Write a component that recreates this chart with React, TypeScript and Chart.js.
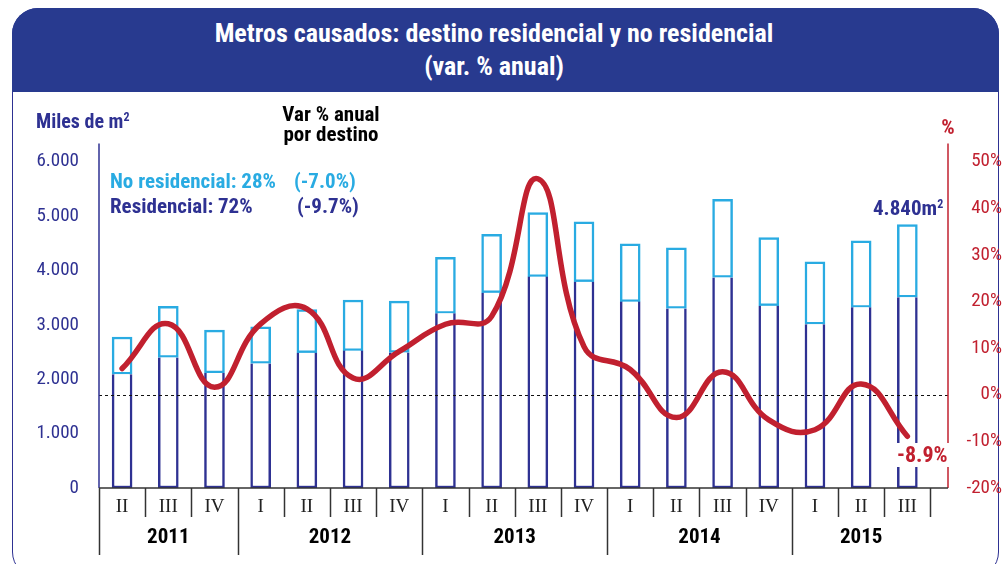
import React, { useEffect, useRef } from "react";
import { Chart, registerables } from "chart.js";

Chart.register(...registerables);

// ---- data ----
const quarterLabels = ["II", "III", "IV", "I", "II", "III", "IV", "I", "II", "III", "IV", "I", "II", "III", "IV", "I", "II", "III"];
const yearLabels = ["2011", "2012", "2013", "2014", "2015"];
const quartersPerYear = [3, 4, 4, 4, 3];
const residencial = [2090, 2400, 2115, 2290, 2485, 2525, 2490, 3210, 3590, 3885, 3790, 3425, 3300, 3870, 3350, 3010, 3320, 3505];
const noResidencial = [685, 940, 785, 670, 795, 930, 945, 1030, 1070, 1175, 1100, 1060, 1115, 1435, 1250, 1145, 1220, 1335];
const variacionAnual = [5.6, 15.2, 1.6, 15.2, 18.4, 3.6, 9.3, 15.1, 16.8, 46.3, 10.3, 5.4, -4.9, 4.9, -5.4, -7.5, 2.3, -8.9];
const leftTickLabels = ["0", "1.000", "2.000", "3.000", "4.000", "5.000", "6.000"];
const rightTickLabels = ["-20%", "-10%", "0%", "10%", "20%", "30%", "40%", "50%"];

const NAVY = "#2e3192";
const LIGHT = "#29abe2";
const RED = "#c1202f";
const TITLE_BG = "#283a8f";
const NARROW = "'Roboto Condensed', 'DejaVu Sans Condensed', sans-serif";
const SERIF = "'Liberation Serif', 'DejaVu Serif', serif";

const axesPlugin = {
  id: "customAxes",
  beforeDatasetDraw(chart: any, args: any) {
    if (args.index !== 2) return;
    const { ctx, chartArea } = chart;
    const y1 = chart.scales.y1;
    const y = Math.round(y1.getPixelForValue(0)) + 0.5;
    ctx.save();
    ctx.strokeStyle = "#111";
    ctx.lineWidth = 1;
    ctx.setLineDash([3, 3]);
    ctx.beginPath();
    ctx.moveTo(chartArea.left, y);
    ctx.lineTo(chartArea.right, y);
    ctx.stroke();
    ctx.restore();
  },
  afterDraw(chart: any) {
    const { ctx, chartArea } = chart;
    const xs = chart.scales.x;
    const top = chartArea.top - 18;
    const bottom = chartArea.bottom;
    ctx.save();
    // left axis
    ctx.strokeStyle = NAVY;
    ctx.lineWidth = 1.5;
    ctx.beginPath();
    ctx.moveTo(chartArea.left, top);
    ctx.lineTo(chartArea.left, bottom);
    ctx.stroke();
    // right axis
    ctx.strokeStyle = RED;
    ctx.beginPath();
    ctx.moveTo(chartArea.right, top);
    ctx.lineTo(chartArea.right, bottom);
    ctx.stroke();
    // bottom axis
    ctx.strokeStyle = "#333";
    ctx.lineWidth = 1.5;
    ctx.beginPath();
    ctx.moveTo(chartArea.left, bottom);
    ctx.lineTo(chartArea.right, bottom);
    ctx.stroke();
    // separators
    const yearStarts: number[] = [];
    let acc = 0;
    quartersPerYear.forEach((n) => {
      yearStarts.push(acc);
      acc += n;
    });
    for (let b = 0; b <= quarterLabels.length; b++) {
      const x = Math.round(xs.getPixelForValue(b - 0.5)) + 0.5;
      const long = yearStarts.includes(b);
      ctx.beginPath();
      ctx.moveTo(x, bottom);
      ctx.lineTo(x, bottom + (long ? 67 : 29));
      ctx.stroke();
    }
    // quarter labels
    ctx.fillStyle = "#222";
    ctx.font = `19px ${SERIF}`;
    ctx.textAlign = "center";
    ctx.textBaseline = "middle";
    quarterLabels.forEach((q, i) => {
      ctx.fillText(q, xs.getPixelForValue(i), bottom + 19);
    });
    // year labels
    ctx.fillStyle = "#000";
    ctx.font = `bold 21px ${NARROW}`;
    yearLabels.forEach((yl, k) => {
      const s = yearStarts[k];
      const e = s + quartersPerYear[k] - 1;
      const cx = (xs.getPixelForValue(s - 0.5) + xs.getPixelForValue(e + 0.5)) / 2;
      ctx.fillText(yl, cx, bottom + 50);
    });
    ctx.restore();
  },
};

export default function App() {
  const ref = useRef<HTMLCanvasElement>(null);

  useEffect(() => {
    if (!ref.current) return;
    const idx = quarterLabels.map((_, i) => i);
    const chart = new Chart(ref.current, {
      type: "bar",
      data: {
        datasets: [
          {
            type: "bar",
            label: "Residencial",
            data: idx.map((i) => ({ x: i, y: residencial[i] })),
            backgroundColor: "#ffffff",
            borderColor: NAVY,
            borderWidth: { top: 0, left: 2.5, right: 2.5, bottom: 2.5 } as any,
            borderSkipped: false,
            barThickness: 20,
            stack: "s",
            yAxisID: "y",
            order: 2,
          },
          {
            type: "bar",
            label: "No residencial",
            data: idx.map((i) => ({ x: i, y: noResidencial[i] })),
            backgroundColor: "#ffffff",
            borderColor: LIGHT,
            borderWidth: 2.5,
            borderSkipped: false,
            barThickness: 20,
            stack: "s",
            yAxisID: "y",
            order: 2,
          },
          {
            type: "line",
            label: "Var % anual",
            data: idx.map((i) => ({ x: i, y: variacionAnual[i] })),
            borderColor: RED,
            borderWidth: 5.5,
            pointRadius: 0,
            tension: 0.45,
            borderCapStyle: "round",
            yAxisID: "y1",
            order: 0,
          } as any,
        ],
      },
      options: {
        responsive: false,
        animation: false,
        events: [],
        layout: { padding: { top: 161.5, bottom: 0, left: 0, right: 0 } },
        plugins: { legend: { display: false }, tooltip: { enabled: false }, title: { display: false } },
        scales: {
          x: {
            type: "linear",
            min: -0.5,
            max: 17.88,
            offset: false,
            grid: { display: false },
            border: { display: false },
            ticks: { display: false },
            afterFit: (s: any) => {
              s.height = 76;
            },
          },
          y: {
            type: "linear",
            position: "left",
            min: 0,
            max: 6000,
            stacked: true,
            grid: { display: false, drawTicks: false },
            border: { display: false },
            ticks: {
              stepSize: 1000,
              padding: 20,
              color: NAVY,
              font: { family: NARROW, size: 19 },
              callback: (_v: any, i: number) => leftTickLabels[i],
            },
            afterFit: (s: any) => {
              s.width = 99;
            },
          },
          y1: {
            type: "linear",
            position: "right",
            min: -20,
            max: 50,
            grid: { display: false, drawTicks: false },
            border: { display: false },
            ticks: {
              stepSize: 10,
              padding: 13,
              crossAlign: "far",
              color: RED,
              font: { family: NARROW, size: 19 },
              callback: (_v: any, i: number) => rightTickLabels[i],
            },
            afterFit: (s: any) => {
              s.width = 54;
            },
          },
        } as any,
      },
      plugins: [axesPlugin],
    } as any);
    return () => chart.destroy();
  }, []);

  const txt = (style: React.CSSProperties, children: React.ReactNode) => (
    <div style={{ position: "absolute", whiteSpace: "nowrap", lineHeight: 1, fontFamily: NARROW, fontWeight: "bold", ...style }}>{children}</div>
  );

  return (
    <div style={{ position: "fixed", left: 0, top: 0, width: 1002, height: 564, background: "#fff", overflow: "hidden" }}>
      <div
        style={{
          position: "absolute",
          left: 12,
          top: 8,
          width: 987,
          height: 570,
          border: `1.5px solid ${NAVY}`,
          borderRadius: 26,
          boxSizing: "border-box",
        }}
      />
      <div
        style={{
          position: "absolute",
          left: 12,
          top: 8,
          width: 987,
          height: 84,
          background: TITLE_BG,
          borderTopLeftRadius: 26,
          borderTopRightRadius: 26,
        }}
      />
      {txt({ left: 494, top: 33, transform: "translate(-50%,-50%)", color: "#fff", fontSize: 26 }, "Metros causados: destino residencial y no residencial")}
      {txt({ left: 494, top: 66, transform: "translate(-50%,-50%)", color: "#fff", fontSize: 26 }, "(var. % anual)")}
      <canvas ref={ref} width={1002} height={564} style={{ position: "absolute", left: 0, top: 0 }} />
      {txt({ left: 36, top: 121, transform: "translateY(-50%)", color: NAVY, fontSize: 20 }, <>Miles de m<sup style={{ fontSize: 12, verticalAlign: "7px" }}>2</sup></>)}
      {txt({ left: 331, top: 114, transform: "translate(-50%,-50%)", color: "#000", fontSize: 21 }, "Var % anual")}
      {txt({ left: 331, top: 134, transform: "translate(-50%,-50%)", color: "#000", fontSize: 21 }, "por destino")}
      {txt({ left: 110, top: 181, transform: "translateY(-50%)", color: LIGHT, fontSize: 21 }, "No residencial: 28%")}
      {txt({ left: 294, top: 181, transform: "translateY(-50%)", color: LIGHT, fontSize: 21 }, "(-7.0%)")}
      {txt({ left: 110, top: 206, transform: "translateY(-50%)", color: NAVY, fontSize: 21 }, "Residencial: 72%")}
      {txt({ left: 297, top: 206, transform: "translateY(-50%)", color: NAVY, fontSize: 21 }, "(-9.7%)")}
      {txt({ left: 873, top: 208, transform: "translateY(-50%)", color: NAVY, fontSize: 21 }, <>4.840m<sup style={{ fontSize: 12, verticalAlign: "7px" }}>2</sup></>)}
      {txt({ left: 948, top: 127, transform: "translate(-50%,-50%)", color: RED, fontSize: 21 }, "%")}
      {txt({ left: 896, top: 455, transform: "translateY(-50%)", color: RED, fontSize: 22, background: "#fff", padding: "1px 1px" }, "-8.9%")}
    </div>
  );
}
